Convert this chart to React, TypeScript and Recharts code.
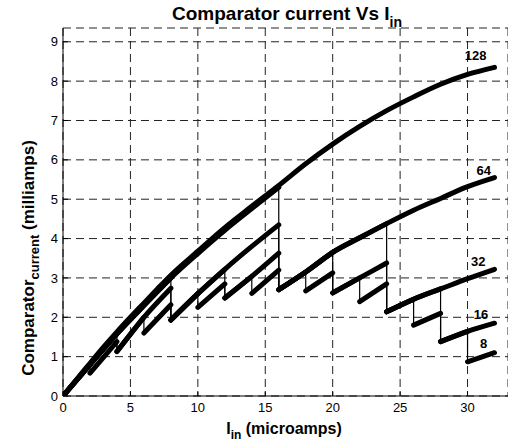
import { LineChart, Line, XAxis, YAxis, CartesianGrid, ReferenceDot } from "recharts";

const FONT = "'Liberation Sans', Arial, Helvetica, sans-serif";

const X_TICKS = [0, 5, 10, 15, 20, 25, 30];
const Y_TICKS = [0, 1, 2, 3, 4, 5, 6, 7, 8, 9];

// Iin (microamps) / comparator current (milliamps); a repeated x marks a reset (vertical drop)
const I_128 = [0, 1, 2, 3, 4, 5, 6, 7, 8, 10, 12, 14, 16, 18, 20, 22, 24, 26, 28, 30, 32];
const C_128 = [0, 0.42, 0.83, 1.24, 1.63, 2.0, 2.36, 2.72, 3.07, 3.68, 4.28, 4.82, 5.35, 5.9, 6.4, 6.85, 7.25, 7.6, 7.92, 8.17, 8.35];

const I_64 = [0, 2, 4, 6, 8, 10, 12, 14, 16, 16, 18, 20, 22, 24, 26, 28, 30, 32];
const C_64 = [0, 0.8, 1.58, 2.3, 3.0, 3.62, 4.21, 4.76, 5.3, 2.7, 3.15, 3.65, 4.02, 4.38, 4.72, 5.02, 5.32, 5.55];

const I_32 = [0, 2, 4, 6, 8, 8, 10, 12, 14, 16, 16, 18, 20, 22, 24, 24, 26, 28, 30, 32];
const C_32 = [0, 0.8, 1.58, 2.3, 3.0, 1.93, 2.6, 3.22, 3.8, 4.35, 2.7, 3.15, 3.65, 4.02, 4.38, 2.14, 2.46, 2.72, 2.98, 3.22];

const I_16 = [0, 2, 4, 4, 6, 8, 8, 10, 12, 12, 14, 16, 16, 18, 20, 20, 22, 24, 24, 26, 28, 28, 30, 32];
const C_16 = [0, 0.8, 1.58, 1.13, 2.0, 2.74, 1.93, 2.6, 3.22, 2.49, 3.04, 3.63, 2.7, 3.15, 3.65, 2.62, 3.0, 3.38, 2.14, 2.46, 2.72, 1.38, 1.64, 1.85];

const I_8 = [0, 2, 2, 4, 4, 6, 6, 8, 8, 10, 10, 12, 12, 14, 14, 16, 16, 18, 18, 20, 20, 22, 22, 24, 24, 26, 26, 28, 28, 30, 30, 32];
const C_8 = [0, 0.8, 0.58, 1.38, 1.13, 2.0, 1.6, 2.32, 1.93, 2.6, 2.25, 2.85, 2.49, 3.04, 2.61, 3.2, 2.7, 3.15, 2.67, 3.13, 2.62, 3.0, 2.4, 2.85, 2.14, 2.46, 1.8, 2.1, 1.38, 1.64, 0.87, 1.1];

// curve tags, placed in data units
const TAGS = [
  { text: "128", x: 30.6, y: 8.65 },
  { text: "64", x: 31.2, y: 5.72 },
  { text: "32", x: 30.8, y: 3.43 },
  { text: "16", x: 31.0, y: 2.08 },
  { text: "8", x: 31.2, y: 1.34 },
];

type Pt = { x: number; y: number | null };

const toPoints = (xs: number[], ys: number[]): Pt[] => xs.map((x, i) => ({ x, y: ys[i] }));

// break the thick trace at every reset so only the drop itself is drawn thin
const splitAtDrops = (pts: Pt[]): Pt[] => {
  const out: Pt[] = [];
  pts.forEach((p, i) => {
    if (i > 0 && p.x === pts[i - 1].x) out.push({ x: p.x, y: null });
    out.push(p);
  });
  return out;
};

const SERIES = [
  { name: "128", xs: I_128, ys: C_128 },
  { name: "64", xs: I_64, ys: C_64 },
  { name: "32", xs: I_32, ys: C_32 },
  { name: "16", xs: I_16, ys: C_16 },
  { name: "8", xs: I_8, ys: C_8 },
].map((s) => {
  const path = toPoints(s.xs, s.ys);
  return { name: s.name, path, segments: splitAtDrops(path) };
});

const tickStyle = { fontSize: 13, fill: "#000", fontFamily: FONT };

export default function App() {
  return (
    <div style={{ position: "absolute", left: 0, top: 0, width: 508, height: 444, background: "#fff", overflow: "hidden" }}>
      <LineChart width={508} height={444} margin={{ top: 28, right: 0, bottom: 18, left: 0 }}>
        <CartesianGrid stroke="#222" strokeDasharray="8 5" />
        <XAxis
          type="number"
          dataKey="x"
          domain={[0, 33]}
          ticks={X_TICKS}
          allowDataOverflow
          height={30}
          tickSize={-5}
          tickMargin={12}
          axisLine={{ stroke: "#000" }}
          tickLine={{ stroke: "#000" }}
          tick={tickStyle}
        />
        <YAxis
          type="number"
          domain={[0, 9.35]}
          ticks={Y_TICKS}
          allowDataOverflow
          width={63}
          tickSize={-5}
          tickMargin={10}
          axisLine={{ stroke: "#000" }}
          tickLine={{ stroke: "#000" }}
          tick={tickStyle}
        />
        {SERIES.map((s) => (
          <Line
            key={"drop-" + s.name}
            data={s.path}
            dataKey="y"
            type="linear"
            stroke="#000"
            strokeWidth={1.2}
            dot={false}
            isAnimationActive={false}
          />
        ))}
        {SERIES.map((s) => (
          <Line
            key={"trace-" + s.name}
            data={s.segments}
            dataKey="y"
            type="monotone"
            stroke="#000"
            strokeWidth={5}
            strokeLinecap="round"
            strokeLinejoin="round"
            connectNulls={false}
            dot={false}
            isAnimationActive={false}
          />
        ))}
        {TAGS.map((t) => (
          <ReferenceDot
            key={t.text}
            x={t.x}
            y={t.y}
            r={0}
            fill="none"
            stroke="none"
            label={{ value: t.text, position: "center", fontSize: 13, fontWeight: "bold", fill: "#000", fontFamily: FONT }}
          />
        ))}
      </LineChart>
      <svg width={508} height={444} style={{ position: "absolute", left: 0, top: 0, pointerEvents: "none" }}>
        <text x={287} y={20} textAnchor="middle" fontSize={19} fontWeight="bold" fontFamily={FONT} fill="#000">
          Comparator current Vs I<tspan dy={7} fontSize={14}>in</tspan>
        </text>
        <text x={284} y={434} textAnchor="middle" fontSize={16} fontWeight="bold" fontFamily={FONT} fill="#000">
          I<tspan dy={5} fontSize={12}>in</tspan>
          <tspan dy={-5}> (microamps)</tspan>
        </text>
        <text transform="rotate(-90)" x={-258} y={34} textAnchor="middle" fontSize={17} fontWeight="bold" fontFamily={FONT} fill="#000">
          Comparator<tspan dy={5} fontSize={13}>current</tspan>
          <tspan dy={-5}> (milliamps)</tspan>
        </text>
      </svg>
    </div>
  );
}
